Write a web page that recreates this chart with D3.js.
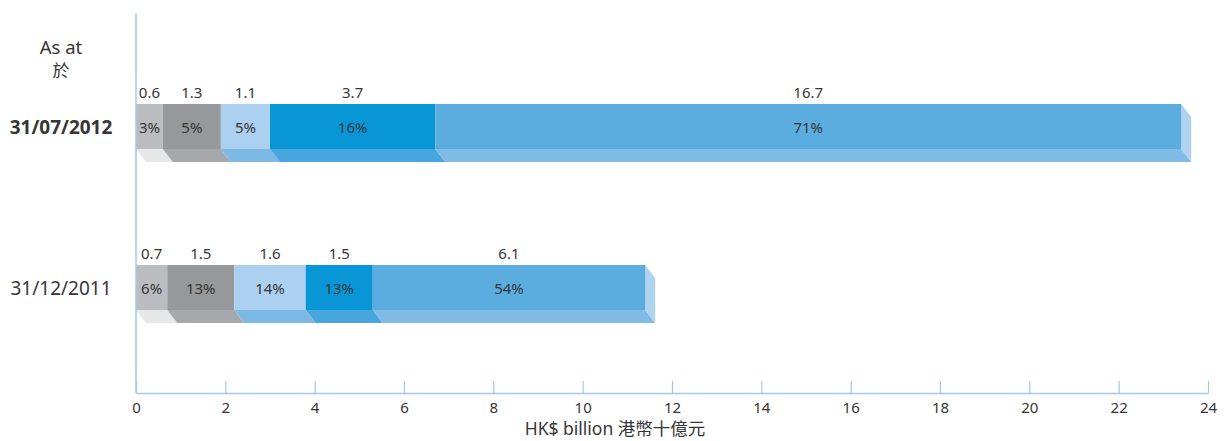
<!DOCTYPE html>
<html>
<head>
<meta charset="utf-8">
<script src="https://cdn.jsdelivr.net/npm/d3@7"></script>
<style>
  body { margin: 0; background: #fff; }
  svg text { font-family: "Noto Sans", "Noto Sans CJK TC", sans-serif; fill: #363636; }
</style>
</head>
<body>
<svg id="chart"></svg>
<script>
// data
const dates = ['31/07/2012', '31/12/2011'];
const values2012 = [0.6, 1.3, 1.1, 3.7, 16.7];
const shares2012 = ['3%', '5%', '5%', '16%', '71%'];
const values2011 = [0.7, 1.5, 1.6, 1.5, 6.1];
const shares2011 = ['6%', '13%', '14%', '13%', '54%'];
const xTicks = [0, 2, 4, 6, 8, 10, 12, 14, 16, 18, 20, 22, 24];

// face colour and slab colour for each segment
const faceColors = ['#bbbcbf', '#97989c', '#acd0f0', '#0896d7', '#5bacdf'];
const slabColors = ['#e6e7e8', '#a7a8ab', '#7cb9e5', '#47a6dd', '#80bbe6'];
const sideColor = '#b0d3f0';
const axisColor = '#9fcaee';

const width = 1227;
const height = 441;
const margin = { top: 13, right: 19, bottom: 48, left: 136 };

const svg = d3.select('#chart')
  .attr('width', width)
  .attr('height', height);

const xScale = d3.scaleLinear()
  .domain([0, 24])
  .range([margin.left, width - margin.right]);

// bar rows (top of front face)
const yScale = d3.scalePoint()
  .domain(dates)
  .range([104, 265]);

const barH = 45;   // front face height
const depthX = 10; // 3d offset
const depthY = 13;

const rows = [
  { date: dates[0], values: values2012, shares: shares2012 },
  { date: dates[1], values: values2011, shares: shares2011 }
];

rows.forEach(row => {
  const y0 = yScale(row.date);
  let acc = 0;
  const segs = row.values.map((v, i) => {
    const s = { start: acc, end: acc + v, value: v, share: row.shares[i], i: i };
    acc += v;
    return s;
  });
  const g = svg.append('g').attr('class', 'bar');

  // bottom slab
  g.selectAll('.slab')
    .data(segs)
    .enter()
    .append('polygon')
      .attr('class', 'slab')
      .attr('fill', d => slabColors[d.i])
      .attr('points', d => {
        const a = xScale(d.start), b = xScale(d.end);
        return [[a, y0 + barH], [b, y0 + barH], [b + depthX, y0 + barH + depthY], [a + depthX, y0 + barH + depthY]].join(' ');
      });

  // right side
  const xEnd = xScale(acc);
  g.append('polygon')
    .attr('fill', sideColor)
    .attr('points', [[xEnd, y0], [xEnd + depthX, y0 + depthY], [xEnd + depthX, y0 + barH + depthY], [xEnd, y0 + barH]].join(' '));

  // front faces
  g.selectAll('.face')
    .data(segs)
    .enter()
    .append('rect')
      .attr('class', 'face')
      .attr('x', d => xScale(d.start))
      .attr('y', y0)
      .attr('width', d => xScale(d.end) - xScale(d.start))
      .attr('height', barH)
      .attr('fill', d => faceColors[d.i]);

  // value labels above
  g.selectAll('.val')
    .data(segs)
    .enter()
    .append('text')
      .attr('class', 'val')
      .attr('x', d => (xScale(d.start) + xScale(d.end)) / 2)
      .attr('y', y0 - 6)
      .attr('text-anchor', 'middle')
      .attr('font-size', 15)
      .text(d => d.value);

  // share labels inside
  g.selectAll('.share')
    .data(segs)
    .enter()
    .append('text')
      .attr('class', 'share')
      .attr('x', d => (xScale(d.start) + xScale(d.end)) / 2)
      .attr('y', y0 + barH / 2 + 6)
      .attr('text-anchor', 'middle')
      .attr('font-size', 15)
      .text(d => d.share);

  // date label
  svg.append('text')
    .attr('x', 61)
    .attr('y', y0 + barH / 2 + 7)
    .attr('text-anchor', 'middle')
    .attr('font-size', 19)
    .attr('font-weight', row.date === dates[0] ? 'bold' : 'normal')
    .text(row.date);
});

// "As at" header
svg.append('text')
  .attr('x', 61).attr('y', 54)
  .attr('text-anchor', 'middle')
  .attr('font-size', 18.5)
  .text('As at');
svg.append('text')
  .attr('x', 61).attr('y', 77)
  .attr('text-anchor', 'middle')
  .attr('font-size', 17)
  .text('於');

// axes
const axisY = height - margin.bottom;

svg.append('line')
  .attr('x1', margin.left).attr('x2', margin.left)
  .attr('y1', margin.top).attr('y2', axisY)
  .attr('stroke', axisColor)
  .attr('stroke-width', 1.5);

const xAxis = svg.append('g')
  .attr('class', 'bottom-axis')
  .attr('transform', 'translate(0,' + axisY + ')')
  .call(d3.axisTop(xScale)
    .tickValues(xTicks)
    .tickSize(12)
    .tickSizeOuter(0)
    .tickFormat(d3.format('d')));

xAxis.select('.domain').attr('stroke', axisColor).attr('stroke-width', 1.5);
xAxis.selectAll('.tick line').attr('stroke', axisColor).attr('stroke-width', 1.2);
xAxis.selectAll('.tick text')
  .attr('y', 20)
  .attr('dy', 0)
  .attr('font-size', 15)
  .attr('fill', '#363636');

svg.append('text')
  .attr('x', 615)
  .attr('y', 435)
  .attr('text-anchor', 'middle')
  .attr('font-size', 17.5)
  .text('HK$ billion 港幣十億元');
</script>
</body>
</html>
